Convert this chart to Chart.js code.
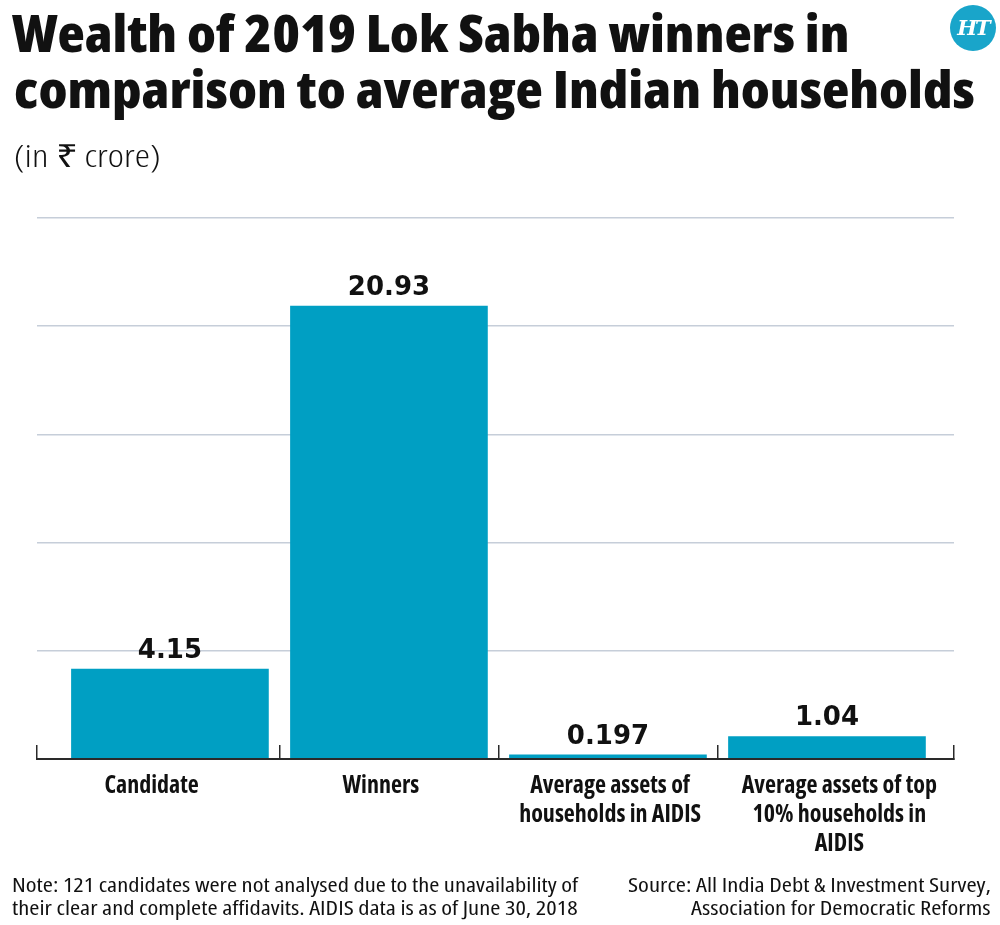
<!DOCTYPE html>
<html><head><meta charset="utf-8">
<script src="https://cdn.jsdelivr.net/npm/chart.js@4.4.1/dist/chart.umd.min.js"></script>
<style>
html,body{margin:0;padding:0;background:#fff;}
body{width:1000px;height:925px;position:relative;overflow:hidden;font-family:"Open Sans",sans-serif;font-stretch:75%;color:#111;}
.t{position:absolute;white-space:nowrap;line-height:1;}
#wrap{position:absolute;left:0;top:0;width:1000px;height:925px;}
#logo{position:absolute;left:950px;top:5px;width:46px;height:46px;border-radius:50%;background:#19a5ca;color:#fff;font-family:"DejaVu Serif",serif;font-stretch:normal;font-style:italic;font-weight:bold;font-size:21px;line-height:46px;text-align:center;letter-spacing:-2px;}
</style></head><body>
<div id="wrap"><canvas id="c"></canvas></div>
<div class="t fit" data-w="838" style="left:12px;top:6px;font-size:52px;font-weight:800;transform-origin:0 0;">Wealth of 2019 Lok Sabha winners in</div>
<div class="t fit" data-w="961" style="left:14px;top:62px;font-size:52px;font-weight:800;transform-origin:0 0;">comparison to average Indian households</div>
<div class="t fit" data-w="146" style="left:14px;top:139px;font-size:32px;font-weight:300;transform-origin:0 0;">(in ₹ crore)</div>
<div id="logo">HT</div>
<div class="t fit" data-w="566" style="left:12px;top:875px;font-size:20px;transform-origin:0 0;">Note: 121 candidates were not analysed due to the unavailability of</div>
<div class="t fit" data-w="566" style="left:12px;top:898px;font-size:20px;transform-origin:0 0;">their clear and complete affidavits. AIDIS data is as of June 30, 2018</div>
<div class="t fit" data-w="363" style="right:9px;top:875px;font-size:20px;transform-origin:100% 0;">Source: All India Debt &amp; Investment Survey,</div>
<div class="t fit" data-w="300" style="right:9px;top:898px;font-size:20px;transform-origin:100% 0;">Association for Democratic Reforms</div>
<script>
// ---- data ----
const categories = [
  ['Candidate'],
  ['Winners'],
  ['Average assets of', 'households in AIDIS'],
  ['Average assets of top', '10% households in', 'AIDIS']
];
const values = [4.15, 20.93, 0.197, 1.04];
const valueLabels = ['4.15', '20.93', '0.197', '1.04'];
const yTicks = [0, 5, 10, 15, 20, 25];

// ---- fit HTML text widths ----
function fitText(){
  document.querySelectorAll('.fit').forEach(el=>{
    el.style.transform='none';
    const w = el.offsetWidth;
    const target = +el.dataset.w;
    el.style.transform = 'scaleX(' + (target / w) + ')';
  });
}
fitText();
if (document.fonts && document.fonts.ready) document.fonts.ready.then(fitText);

const FONT = '"Open Sans", sans-serif';
const barColor = '#009fc3';
const axisColor = '#2a2a2a';
const gridColor = '#c6ced9';

const valueLabelPlugin = {
  id: 'valueLabels',
  afterDatasetsDraw(chart){
    const ctx = chart.ctx;
    const meta = chart.getDatasetMeta(0);
    ctx.save();
    ctx.font = 'bold 26px "DejaVu Sans", sans-serif';
    ctx.fillStyle = '#111';
    ctx.textAlign = 'center';
    ctx.textBaseline = 'alphabetic';
    meta.data.forEach((bar, i) => {
      ctx.fillText(valueLabels[i], bar.x, bar.y - 11);
    });
    ctx.restore();
  }
};

const boundaries = categories.slice(1).map((_, i) => i + 1.5);

new Chart(document.getElementById('c'), {
  type: 'bar',
  data: {
    labels: categories,
    datasets: [{
      data: values.map((v, i) => ({x: i + 1, y: v})),
      backgroundColor: barColor,
      borderWidth: 0,
      barThickness: 197,
      xAxisID: 'x',
      yAxisID: 'y'
    }]
  },
  options: {
    responsive: true,
    maintainAspectRatio: false,
    animation: false,
    layout: { padding: { left: 37, right: 46, top: 218, bottom: 66 } },
    plugins: { legend: {display: false}, tooltip: {enabled: false}, title: {display: false} },
    scales: {
      x: {
        type: 'linear',
        position: 'bottom',
        offset: false,
        min: 0.393,
        max: 4.58,
        afterBuildTicks: s => { s.ticks = [s.min, ...boundaries, s.max].map(v => ({value: v})); },
        ticks: { display: false },
        grid: { offset: false, drawOnChartArea: false, drawTicks: true, tickLength: -14, color: axisColor, lineWidth: 1.5, z: 1 },
        border: { display: true, color: axisColor, width: 2, z: 1 },
        afterFit: s => { s.height = 0; }
      },
      xl: {
        type: 'category',
        position: 'bottom',
        labels: categories,
        offset: true,
        grid: { display: false, drawTicks: false },
        border: { display: false },
        ticks: {
          color: '#111',
          font: { family: FONT, size: 24, weight: 'bold condensed', lineHeight: 1.2 },
          padding: 13,
          maxRotation: 0,
          autoSkip: false
        },
        afterFit: s => { s.height = 100; }
      },
      y: {
        min: 0,
        max: 25,
        afterBuildTicks: s => { s.ticks = yTicks.map(v => ({value: v})); },
        ticks: { display: false },
        grid: { color: c => (c.tick && c.tick.value === 0) ? 'rgba(0,0,0,0)' : gridColor, lineWidth: 1.5, drawTicks: false },
        border: { display: false },
        afterFit: s => { s.width = 0; }
      }
    }
  },
  plugins: [valueLabelPlugin]
});
</script>
</body></html>
